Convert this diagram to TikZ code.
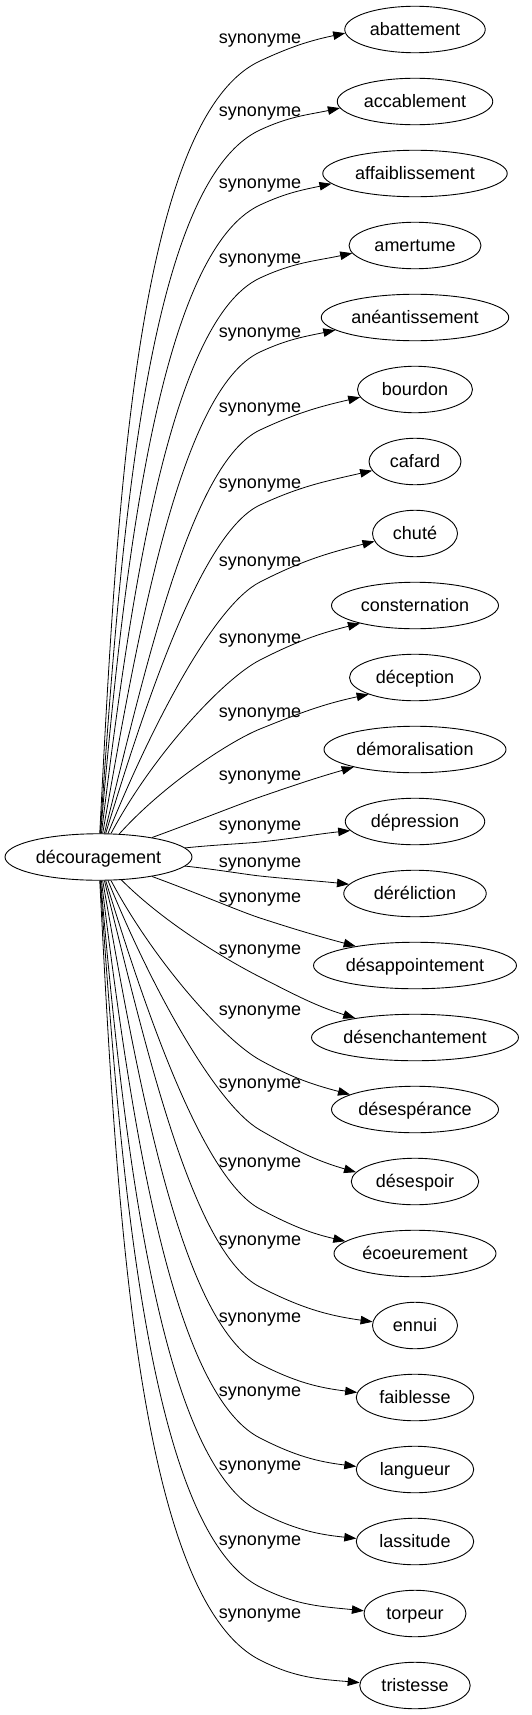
\documentclass[tikz,border=0pt]{standalone}
\usepackage{fontspec}
\setmainfont{Liberation Sans}
\usetikzlibrary{arrows.meta,shapes.geometric}
\begin{document}
\begin{tikzpicture}[x=1pt,y=1pt,
  word/.style={ellipse,draw,line width=0.9pt,inner sep=0pt,minimum height=46.5pt,
    font=\fontsize{18}{20}\selectfont,text height=13.5pt,text depth=1.5pt},
  lab/.style={inner sep=0pt,font=\fontsize{18}{20}\selectfont,text height=10pt,text depth=0pt},
  edge/.style={draw,line width=0.8pt,-{Triangle[length=12pt,width=8.5pt]}},
]
\useasboundingbox (0,0) rectangle (532,-1715);
\node[word,minimum width=187pt] (c) at (98.5,-857) {découragement};
\foreach \i/\txt/\w/\yl/\yv/\o/\th/\ph/\ea in {
0/abattement/140.5/39/61/87/25/12/183,
1/accablement/155.5/112/130/86/25/12/185,
2/affaiblissement/184.5/184/205/85/25/12/187,
3/amertume/132/258/278/83/25/12/187,
4/anéantissement/187.5/332/352/80/25/12/189,
5/bourdon/115/407/430/76/25/13/188,
6/cafard/92/483/505/73/25/13/192,
7/chuté/85/561/582/68/27/14/191,
8/consternation/167/638/660/62/27/14/198,
9/déception/131/712/729/48/22/12/200,
10/démoralisation/182/775/797/20/19/16/196,
11/dépression/139.5/825/842/6/6/6/188,
12/déréliction/142.5/862/876/-6/-6/-6/172,
13/désappointement/203/897/918/-20/-18/-15/162,
14/désenchantement/207/949/977/-45/-27/-17/162,
15/désespérance/167/1010/1060/-62/-29/-15/167,
16/désespoir/127.5/1083/1130/-68/-30/-16/171,
17/écoeurement/162/1162/1209/-73/-28/-13/170,
18/ennui/85/1240/1287/-76/-27/-8/175,
19/faiblesse/117.5/1317/1364/-80/-27/-7/175,
20/langueur/117.5/1391/1438/-83/-27/-7/177,
21/lassitude/117.5/1465/1512/-85/-27/-6/177,
22/torpeur/102/1540/1587/-86/-27/-6/177,
23/tristesse/110.5/1613/1660/-87/-27/-5/177}{
  \pgfmathsetmacro\ty{-(29.5+72*\i)}
  \pgfmathsetmacro\thin{\th+180}
  \pgfmathsetmacro\phin{\ph+180}
  \node[word,minimum width=\w pt] (t\i) at (415,\ty) {\txt};
  \node[lab] (l\i) at (260,-\yl) {synonyme};
  \coordinate (v\i) at (260,-\yv);
  \draw[edge] (c) to[out=\o,in=\thin,out looseness=1,in looseness=0.45] (v\i)
     to[out=\th,in=\phin] (t\i.\ea);
}
\end{tikzpicture}
\end{document}
